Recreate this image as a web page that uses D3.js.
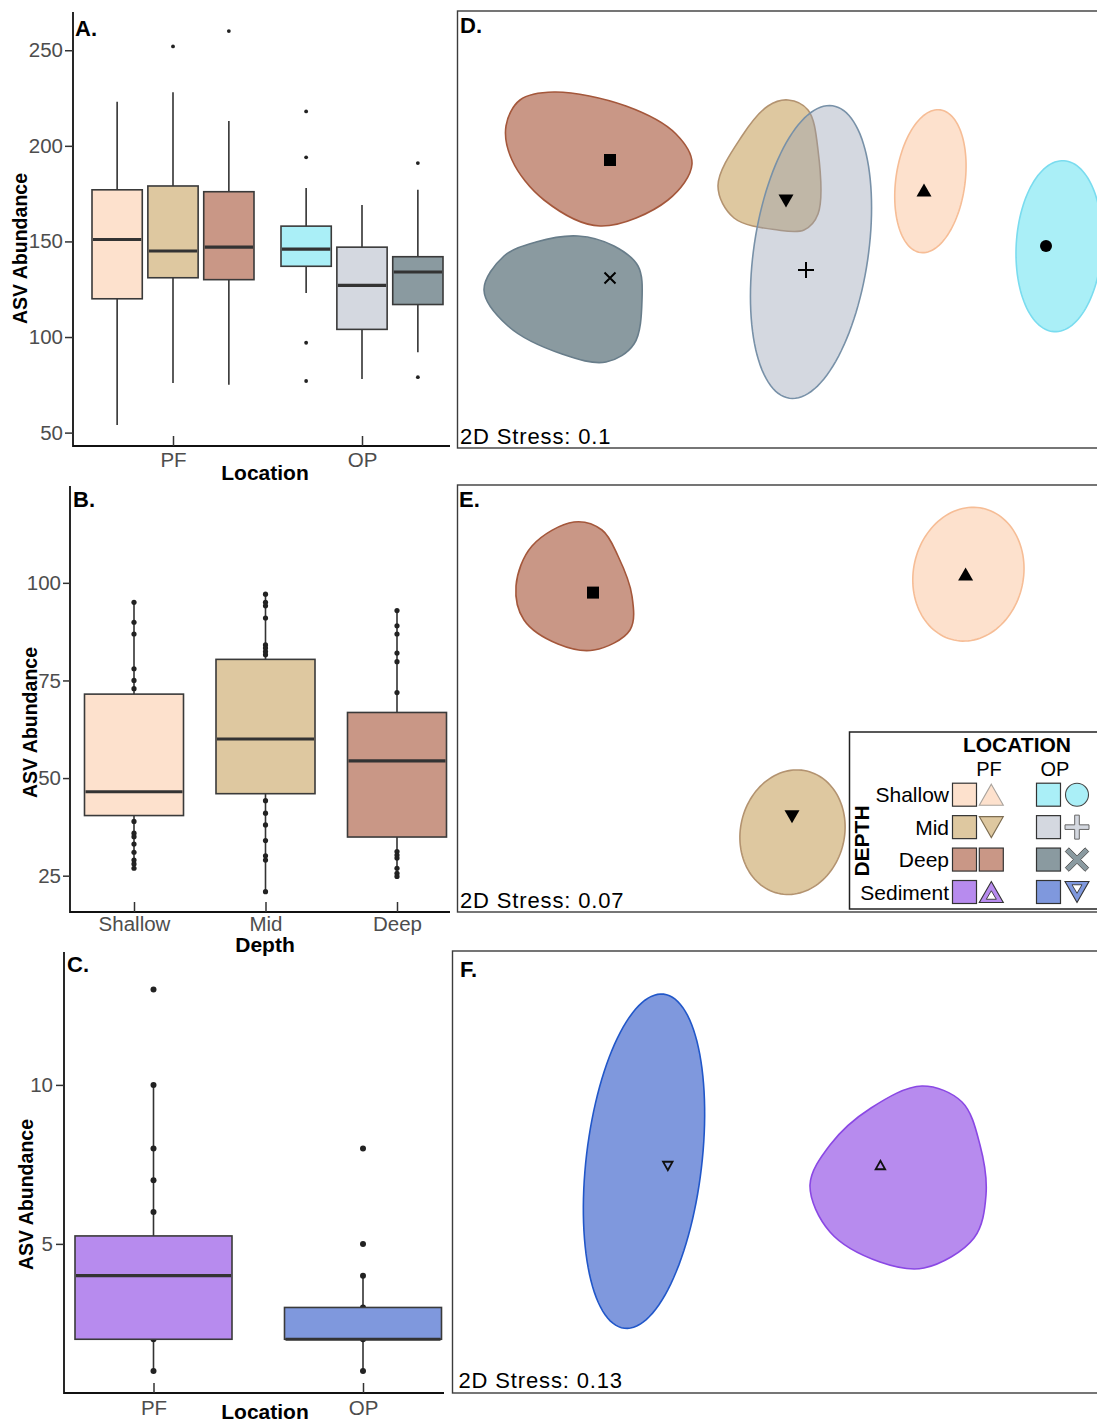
<!DOCTYPE html>
<html>
<head>
<meta charset="utf-8">
<script src="https://cdn.jsdelivr.net/npm/d3@7"></script>
<style>
  body { margin: 0; background: #fff; }
  svg { display: block; font-family: "Liberation Sans", Arial, Helvetica, sans-serif; }
</style>
</head>
<body>
<svg id="fig" width="1097" height="1425"></svg>
<script>
// ---------------- data ----------------

// Panel A: ASV abundance, location x depth
var locA = ["PF", "OP"];
var depthA = ["Shallow", "Mid", "Deep"];
var statsA = [
  {loc: "PF", depth: "Shallow", lo: 54,  q1: 120, med: 151, q3: 177, hi: 223, out: []},
  {loc: "PF", depth: "Mid",     lo: 76,  q1: 131, med: 145, q3: 179, hi: 228, out: [252]},
  {loc: "PF", depth: "Deep",    lo: 75,  q1: 130, med: 147, q3: 176, hi: 213, out: [260]},
  {loc: "OP", depth: "Shallow", lo: 123, q1: 137, med: 146, q3: 158, hi: 178, out: [218, 194, 97, 77]},
  {loc: "OP", depth: "Mid",     lo: 78,  q1: 104, med: 127, q3: 147, hi: 169, out: []},
  {loc: "OP", depth: "Deep",    lo: 92,  q1: 117, med: 134, q3: 142, hi: 177, out: [191, 79]}
];
var ticksA = [50, 100, 150, 200, 250];

// Panel B: PF water column by depth
var depthB = ["Shallow", "Mid", "Deep"];
var statsB = [
  {lo: 26.9, q1: 40.4, med: 46.5, q3: 71.5, hi: 95},
  {lo: 20.9, q1: 46,   med: 60,   q3: 80.4, hi: 97.1},
  {lo: 24.8, q1: 34.9, med: 54.4, q3: 66.8, hi: 92.9}
];
var pointsB = [
  [95, 89.9, 86.9, 78, 75, 72.9, 38.9, 35.9, 35, 33.1, 31, 29, 28, 26.9],
  [97.1, 95, 94.1, 91, 84.1, 83.3, 82.4, 81.6, 44.2, 41, 38, 34, 30.1, 29, 20.9],
  [92.9, 89, 86.9, 82, 79.8, 71.9, 31.2, 30.3, 29.5, 26.9, 25.6, 24.8]
];
var ticksB = [25, 50, 75, 100];

// Panel C: sediment by location
var locC = ["PF", "OP"];
var statsC = [
  {lo: 1, q1: 2, med: 4, q3: 5.25, hi: 10},
  {lo: 1, q1: 2, med: 2, q3: 3,    hi: 4}
];
var pointsC = [
  [1, 2, 4, 6, 7, 8, 10, 13],
  [1, 2, 3, 4, 5, 8]
];
var ticksC = [5, 10];

// NMDS panels (NMDS1, NMDS2): hulls as outline points, or ellipses [cx, cy, rx, ry, angle]
var nmdsD = [
  {key: "Deep-PF", marker: "square", c: [-0.84, 0.35],
   hull: [[-1.12,0.69],[-0.76,0.62],[-0.51,0.48],[-0.43,0.33],[-0.55,0.15],[-0.89,0.02],[-1.17,0.15],[-1.33,0.35],[-1.36,0.52],[-1.29,0.65]]},
  {key: "Deep-OP", marker: "x", c: [-0.84, -0.24],
   hull: [[-1.00,-0.03],[-0.82,-0.08],[-0.70,-0.18],[-0.68,-0.35],[-0.72,-0.57],[-0.86,-0.66],[-1.08,-0.62],[-1.35,-0.48],[-1.47,-0.30],[-1.37,-0.13],[-1.21,-0.06]]},
  {key: "Mid-PF", marker: "triDown", c: [0.04, 0.145],
   hull: [[0.05,0.65],[0.15,0.60],[0.20,0.40],[0.20,0.08],[0.13,0.00],[0.00,0.00],[-0.22,0.06],[-0.30,0.22],[-0.18,0.47],[-0.05,0.62]]},
  {key: "Mid-OP", marker: "plus", c: [0.14, -0.20], ell: [0.165, -0.11, 0.286, 0.739, -8.4]},
  {key: "Shallow-PF", marker: "triUp", c: [0.73, 0.20], ell: [0.762, 0.244, 0.173, 0.36, -7.9]},
  {key: "Shallow-OP", marker: "circle", c: [1.34, -0.08], ell: [1.405, -0.081, 0.214, 0.428, -3.3]}
];
var nmdsE = [
  {key: "Deep-PF", marker: "square", c: [-0.925, 0.537],
   hull: [[-1.02,0.89],[-0.88,0.85],[-0.80,0.72],[-0.73,0.52],[-0.74,0.35],[-0.92,0.25],[-1.10,0.28],[-1.27,0.40],[-1.31,0.57],[-1.23,0.77]]},
  {key: "Shallow-PF", marker: "triUp", c: [0.938, 0.63], ell: [0.952, 0.629, 0.275, 0.337, -12.3]},
  {key: "Mid-PF", marker: "triDown", c: [0.07, -0.584], ell: [0.0725, -0.661, 0.26, 0.314, -13.2]}
];
var nmdsF = [
  {key: "Sediment-OP", marker: "triDownOpen", c: [-0.541, 0.03], ell: [-0.66, 0.054, 0.289, 0.841, -6.7]},
  {key: "Sediment-PF", marker: "triUpOpen", c: [0.522, 0.035],
   hull: [[0.73,0.43],[0.93,0.35],[1.02,0.135],[1.05,-0.115],[0.99,-0.33],[0.74,-0.48],[0.52,-0.45],[0.27,-0.30],[0.17,-0.065],[0.27,0.135],[0.475,0.32]]}
];

// legend
var legDepths = ["Shallow", "Mid", "Deep", "Sediment"];
var legLocs = ["PF", "OP"];
var legShapes = {
  "Shallow-PF": "triUp", "Mid-PF": "triDown", "Deep-PF": "square", "Sediment-PF": "triUpOpen",
  "Shallow-OP": "circle", "Mid-OP": "plus", "Deep-OP": "x", "Sediment-OP": "triDownOpen"
};

// colours
var fills = {
  "Shallow-PF": "#fde1cd", "Mid-PF": "#dec8a0", "Deep-PF": "#c99786", "Sediment-PF": "#b78bee",
  "Shallow-OP": "#aaeff7", "Mid-OP": "#d4d8e0", "Deep-OP": "#8a9aa0", "Sediment-OP": "#7f98dd"
};
var strokes = {
  "Shallow-PF": "#f6bd96", "Mid-PF": "#b39370", "Deep-PF": "#a4573b", "Sediment-PF": "#8a48e4",
  "Shallow-OP": "#7adcef", "Mid-OP": "#7891a8", "Deep-OP": "#687d8a", "Sediment-OP": "#2157c9"
};

// ---------------- helpers ----------------
var svg = d3.select("#fig");
var INK = "#333";

function yAxis(g, x, y, ticks, size, pad) {
  var a = g.append("g").attr("transform", "translate(" + x + ",0)")
    .call(d3.axisLeft(y).tickValues(ticks).tickSize(size).tickPadding(pad).tickSizeOuter(0));
  a.select(".domain").remove();
  a.attr("font-size", 20.5).attr("font-family", null);
  a.selectAll("line").attr("stroke", INK).attr("stroke-width", 1.5);
  a.selectAll("text").attr("fill", "#4d4d4d");
}

function xAxis(g, y, x, pad) {
  var a = g.append("g").attr("transform", "translate(0," + y + ")")
    .call(d3.axisBottom(x).tickSize(-10).tickPadding(pad).tickSizeOuter(0));
  a.select(".domain").remove();
  a.attr("font-size", 20.5).attr("font-family", null);
  a.selectAll("line").attr("stroke", INK).attr("stroke-width", 1.5);
  a.selectAll("text").attr("fill", "#4d4d4d");
}

function axisLines(g, x0, x1, y0, y1) {
  g.append("path").attr("d", "M" + x0 + "," + y0 + "V" + y1 + "H" + x1)
    .attr("fill", "none").attr("stroke", "#111").attr("stroke-width", 1.8);
}

function drawBox(g, cx, w, s, y, fill, pts, r) {
  g.append("line").attr("x1", cx).attr("x2", cx).attr("y1", y(s.hi)).attr("y2", y(s.lo))
    .attr("stroke", INK).attr("stroke-width", 1.6);
  pts.forEach(function(v) {
    g.append("circle").attr("cx", cx).attr("cy", y(v)).attr("r", r).attr("fill", "#222");
  });
  g.append("rect").attr("x", cx - w / 2).attr("y", y(s.q3))
    .attr("width", w).attr("height", y(s.q1) - y(s.q3))
    .attr("fill", fill).attr("stroke", "#3a3a3a").attr("stroke-width", 1.6);
  g.append("line").attr("x1", cx - w / 2 + 1).attr("x2", cx + w / 2 - 1)
    .attr("y1", y(s.med)).attr("y2", y(s.med))
    .attr("stroke", INK).attr("stroke-width", 3.2);
}

function label(g, txt, x, y, size, bold, anchor) {
  return g.append("text").attr("x", x).attr("y", y).attr("font-size", size)
    .attr("font-weight", bold ? "bold" : "normal").attr("text-anchor", anchor || "start")
    .attr("fill", "#000").text(txt);
}

function yTitle(g, txt, x, y) {
  g.append("text").attr("transform", "translate(" + x + "," + y + ") rotate(-90)")
    .attr("text-anchor", "middle").attr("font-size", 19.5).attr("font-weight", "bold").text(txt);
}

function triPath(cx, cy, w, h, up) {
  if (up) return "M" + cx + "," + (cy - h / 2) + "L" + (cx + w / 2) + "," + (cy + h / 2) + "L" + (cx - w / 2) + "," + (cy + h / 2) + "Z";
  return "M" + cx + "," + (cy + h / 2) + "L" + (cx + w / 2) + "," + (cy - h / 2) + "L" + (cx - w / 2) + "," + (cy - h / 2) + "Z";
}

function crossPoly(cx, cy, L, w, rot) {
  var p = [[-w,-L],[w,-L],[w,-w],[L,-w],[L,w],[w,w],[w,L],[-w,L],[-w,w],[-L,w],[-L,-w],[-w,-w]];
  var a = rot * Math.PI / 180;
  return "M" + p.map(function(d) {
    return [cx + d[0] * Math.cos(a) - d[1] * Math.sin(a), cy + d[0] * Math.sin(a) + d[1] * Math.cos(a)].join(",");
  }).join("L") + "Z";
}

// base colour that gives the wanted look on white at opacity a
function baseFor(hex, a) {
  var c = d3.rgb(hex);
  var f = function(v) { return Math.max(0, Math.min(255, (v - 255 * (1 - a)) / a)); };
  return d3.rgb(f(c.r), f(c.g), f(c.b)).formatHex();
}

function ellipsePts(e) {
  var th = e[4] * Math.PI / 180;
  return d3.range(120).map(function(i) {
    var t = i / 120 * 2 * Math.PI;
    var lx = e[2] * Math.cos(t), ly = e[3] * Math.sin(t);
    return [e[0] + lx * Math.cos(th) - ly * Math.sin(th), e[1] + lx * Math.sin(th) + ly * Math.cos(th)];
  });
}

function nmdsMarker(g, type, x, y, sz) {
  var k = sz || 1;
  if (type === "square") {
    g.append("rect").attr("x", x - 6 * k).attr("y", y - 6 * k).attr("width", 12 * k).attr("height", 12 * k).attr("fill", "#000");
  } else if (type === "triUp" || type === "triDown") {
    g.append("path").attr("d", triPath(x, y, 15 * k, 13 * k, type === "triUp")).attr("fill", "#000");
  } else if (type === "circle") {
    g.append("circle").attr("cx", x).attr("cy", y).attr("r", 6 * k).attr("fill", "#000");
  } else if (type === "plus") {
    g.append("path").attr("d", "M" + (x - 8) + "," + y + "H" + (x + 8) + "M" + x + "," + (y - 8) + "V" + (y + 8))
      .attr("stroke", "#000").attr("stroke-width", 2);
  } else if (type === "x") {
    g.append("path").attr("d", "M" + (x - 5.5) + "," + (y - 5.5) + "L" + (x + 5.5) + "," + (y + 5.5) + "M" + (x + 5.5) + "," + (y - 5.5) + "L" + (x - 5.5) + "," + (y + 5.5))
      .attr("stroke", "#000").attr("stroke-width", 2);
  } else if (type === "triUpOpen" || type === "triDownOpen") {
    g.append("path").attr("d", triPath(x, y, 9.5, 8.5, type === "triUpOpen"))
      .attr("fill", "none").attr("stroke", "#111").attr("stroke-width", 1.8).attr("stroke-linejoin", "miter");
  }
}

function drawNmds(g, groups, sx, sy, msz) {
  var hullLine = d3.line().x(function(d) { return sx(d[0]); }).y(function(d) { return sy(d[1]); })
    .curve(d3.curveCatmullRomClosed.alpha(0.5));
  var ellLine = d3.line().x(function(d) { return sx(d[0]); }).y(function(d) { return sy(d[1]); })
    .curve(d3.curveLinearClosed);
  groups.forEach(function(gr) {
    var a = gr.key === "Mid-OP" ? 0.4 : 0.55;
    g.append("path").attr("d", gr.hull ? hullLine(gr.hull) : ellLine(ellipsePts(gr.ell)))
      .attr("fill", baseFor(fills[gr.key], a)).attr("fill-opacity", a)
      .attr("stroke", strokes[gr.key]).attr("stroke-width", 1.6);
  });
  groups.forEach(function(gr) {
    nmdsMarker(g, gr.marker, sx(gr.c[0]), sy(gr.c[1]), msz);
  });
}

function panelFrame(g, x, y, w, h) {
  g.append("rect").attr("x", x).attr("y", y).attr("width", w).attr("height", h)
    .attr("fill", "none").attr("stroke", "#3c3c3c").attr("stroke-width", 1.4);
}

function stressText(g, txt, x, y) {
  label(g, txt, x, y, 22, false).attr("letter-spacing", 0.85);
}

// ---------------- Panel A ----------------
var gA = svg.append("g");
var yA = d3.scaleLinear().domain([43, 270]).range([446, 12]);
var xA = d3.scalePoint().domain(locA).range([173, 362]);
var dA = d3.scaleBand().domain(depthA).range([-81, 81]).paddingInner(0.1);
statsA.forEach(function(s) {
  var cx = xA(s.loc) + dA(s.depth) + dA.bandwidth() / 2;
  drawBox(gA, cx, dA.bandwidth(), s, yA, fills[s.depth + "-" + s.loc], [], 0);
  s.out.forEach(function(v) {
    gA.append("circle").attr("cx", cx).attr("cy", yA(v)).attr("r", 1.9).attr("fill", "#222");
  });
});
axisLines(gA, 73, 450, 12, 446);
yAxis(gA, 73, yA, ticksA, 8, 2);
xAxis(gA, 446, xA, 6);
label(gA, "A.", 75, 36, 22, true);
yTitle(gA, "ASV Abundance", 26.5, 248.5);
label(gA, "Location", 265, 480, 21, true, "middle");

// ---------------- Panel B ----------------
var gB = svg.append("g");
var yB = d3.scaleLinear().domain([15.7, 124.8]).range([912, 486]);
var xB = d3.scalePoint().domain(depthB).range([134, 397]);
statsB.forEach(function(s, i) {
  drawBox(gB, xB(depthB[i]), 99, s, yB, fills[depthB[i] + "-PF"], pointsB[i], 2.6);
});
axisLines(gB, 70, 450, 486, 912);
yAxis(gB, 70, yB, ticksB, 7, 2);
xAxis(gB, 912, xB, 4);
label(gB, "B.", 73, 506.5, 22, true);
yTitle(gB, "ASV Abundance", 37, 722.5);
label(gB, "Depth", 265, 952, 21, true, "middle");

// ---------------- Panel C ----------------
var gC = svg.append("g");
var yC = d3.scaleLinear().domain([0.31, 14.18]).range([1393, 952]);
var xC = d3.scalePoint().domain(locC).range([153.5, 363]);
statsC.forEach(function(s, i) {
  drawBox(gC, xC(locC[i]), 157, s, yC, fills["Sediment-" + locC[i]], pointsC[i], 3);
});
axisLines(gC, 64, 444, 952, 1393);
yAxis(gC, 64, yC, ticksC, 8, 3);
xAxis(gC, 1393, xC, 7);
label(gC, "C.", 67, 971.5, 22, true);
yTitle(gC, "ASV Abundance", 33, 1194.5);
label(gC, "Location", 265, 1419, 21, true, "middle");

// ---------------- Panel D ----------------
var gD = svg.append("g");
var xD = d3.scaleLinear().domain([-1.6, 1.6]).range([458, 1098]);
var yD = d3.scaleLinear().domain([-1.1, 1.1]).range([450, 10]);
drawNmds(gD, nmdsD, xD, yD, 1);
panelFrame(gD, 457.5, 11, 700, 437);
label(gD, "D.", 460, 33, 22, true);
stressText(gD, "2D Stress: 0.1", 460, 444);

// ---------------- Panel E ----------------
var gE = svg.append("g");
var xE = d3.scaleLinear().domain([-1.6, 1.6]).range([458, 1098]);
var yE = d3.scaleLinear().domain([-1.05, 1.05]).range([910, 490]);
drawNmds(gE, nmdsE, xE, yE, 1);
panelFrame(gE, 457.5, 485, 700, 427);
label(gE, "E.", 459, 506.5, 22, true);
stressText(gE, "2D Stress: 0.07", 460, 908);

// legend
var gL = gE.append("g");
gL.append("rect").attr("x", 849.5).attr("y", 732).attr("width", 260).attr("height", 177)
  .attr("fill", "#fff").attr("stroke", "#222").attr("stroke-width", 1.5);
label(gL, "LOCATION", 1017, 752, 21, true, "middle");
var legX = d3.scalePoint().domain(legLocs).range([989, 1055]);
legLocs.forEach(function(l) { label(gL, l, legX(l), 776, 20, false, "middle"); });
gL.append("text").attr("transform", "translate(869,841) rotate(-90)").attr("text-anchor", "middle")
  .attr("font-size", 21).attr("font-weight", "bold").text("DEPTH");
var legY = d3.scalePoint().domain(legDepths).range([794.7, 892]);
var sqX = {PF: 964.5, OP: 1048.5}, shX = {PF: 991.3, OP: 1077};
legDepths.forEach(function(d) {
  var cy = legY(d);
  label(gL, d, 949, cy + 7.5, 21, false, "end");
  legLocs.forEach(function(l) {
    var k = d + "-" + l, f = fills[k], sx = shX[l], t = legShapes[k];
    gL.append("rect").attr("x", sqX[l] - 12).attr("y", cy - 11.5).attr("width", 24).attr("height", 23)
      .attr("fill", f).attr("stroke", INK).attr("stroke-width", 1.2);
    if (t === "square") {
      gL.append("rect").attr("x", sx - 12).attr("y", cy - 11.5).attr("width", 24).attr("height", 23)
        .attr("fill", f).attr("stroke", INK).attr("stroke-width", 1.2);
    } else if (t === "triUp" || t === "triDown") {
      gL.append("path").attr("d", triPath(sx, cy, 24, 21, t === "triUp"))
        .attr("fill", f).attr("stroke", t === "triUp" ? "#a9a39d" : "#7d6d52").attr("stroke-width", 1.1);
    } else if (t === "triUpOpen" || t === "triDownOpen") {
      var up = t === "triUpOpen";
      gL.append("path").attr("d", triPath(sx, cy, 24, 21, up)).attr("fill", f).attr("stroke", INK).attr("stroke-width", 1.1);
      gL.append("path").attr("d", triPath(sx, cy + (up ? 3 : -3), 10, 8.5, up)).attr("fill", "#fff").attr("stroke", INK).attr("stroke-width", 0.9);
    } else if (t === "circle") {
      gL.append("circle").attr("cx", sx).attr("cy", cy).attr("r", 11.5).attr("fill", f).attr("stroke", "#444").attr("stroke-width", 1.1);
    } else if (t === "plus") {
      gL.append("path").attr("d", crossPoly(sx, cy, 12, 2.3, 0)).attr("fill", f).attr("stroke", "#666").attr("stroke-width", 1);
    } else if (t === "x") {
      gL.append("path").attr("d", crossPoly(sx, cy, 14, 2.6, 45)).attr("fill", f).attr("stroke", "#555").attr("stroke-width", 1);
    }
  });
});

// ---------------- Panel F ----------------
var gF = svg.append("g");
var xF = d3.scaleLinear().domain([-1.6, 1.6]).range([456, 1096]);
var yF = d3.scaleLinear().domain([-1.1, 1.1]).range([1392, 952]);
drawNmds(gF, nmdsF, xF, yF, 1);
panelFrame(gF, 452.5, 951, 700, 442);
label(gF, "F.", 460, 976.5, 22, true);
stressText(gF, "2D Stress: 0.13", 458.5, 1388);
</script>
</body>
</html>
